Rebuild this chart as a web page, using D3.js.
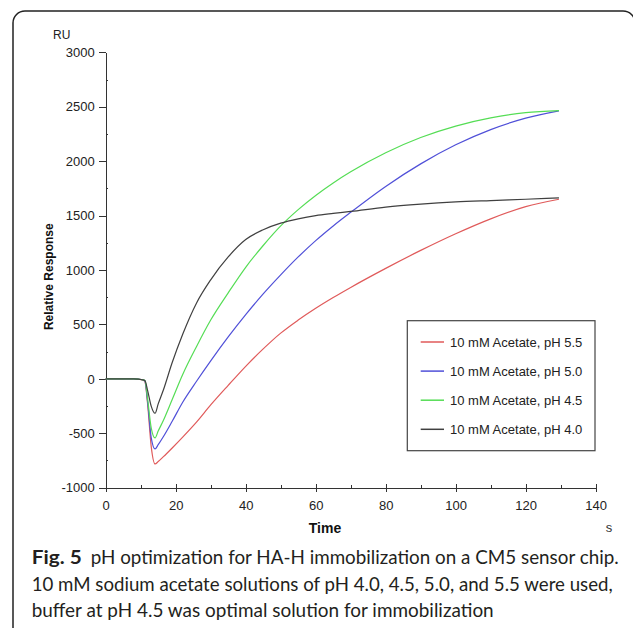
<!DOCTYPE html>
<html>
<head>
<meta charset="utf-8">
<script src="https://cdn.jsdelivr.net/npm/d3@7"></script>
<style>
  body { margin: 0; background: #fff; }
  svg { display: block; }
  .axis text { font-family: "Liberation Sans", Arial, sans-serif; font-size: 13px; fill: #222; }
  .axis path, .axis line { stroke: #333; stroke-width: 1; shape-rendering: crispEdges; }
</style>
</head>
<body>
<div id="chart"></div>
<script>
// sensorgram data (s, RU)
var times = [0, 8, 10.5, 11.2, 12, 13, 14.1, 15, 16.5, 19, 22, 26, 30, 35, 40, 45, 50, 55, 60, 65, 70, 80, 90, 100, 110, 120, 129.5];
var ph55 = [0, 0, -10, -25, -240, -620, -782, -760, -715, -635, -535, -395, -240, -60, 115, 275, 420, 540, 648, 747, 840, 1015, 1180, 1333, 1470, 1582, 1650];
var ph50 = [0, 0, -8, -20, -220, -540, -644, -605, -530, -390, -215, -20, 165, 385, 590, 780, 955, 1120, 1270, 1405, 1530, 1768, 1975, 2150, 2290, 2395, 2462];
var ph45 = [0, 0, -8, -15, -190, -450, -543, -480, -380, -190, 40, 300, 540, 790, 1025, 1225, 1405, 1555, 1685, 1800, 1902, 2077, 2217, 2322, 2397, 2445, 2464];
var ph40 = [0, 0, -8, -15, -110, -250, -316, -230, -100, 150, 410, 700, 910, 1120, 1280, 1370, 1430, 1470, 1500, 1520, 1538, 1578, 1605, 1625, 1638, 1650, 1662];

var seriesNames = ["10 mM Acetate, pH 5.5", "10 mM Acetate, pH 5.0", "10 mM Acetate, pH 4.5", "10 mM Acetate, pH 4.0"];
var seriesColors = ["#e05a5a", "#5050d8", "#55dd55", "#404040"];

var xMajor = [0, 20, 40, 60, 80, 100, 120, 140];
var xMinor = [10, 30, 50, 70, 90, 110, 130];
var yMajor = [-1000, -500, 0, 500, 1000, 1500, 2000, 2500, 3000];
var yMinor = [-750, -250, 250, 750, 1250, 1750, 2250, 2750];

var captionLines = [
  "pH optimization for HA-H immobilization on a CM5 sensor chip.",
  "10 mM sodium acetate solutions of pH 4.0, 4.5, 5.0, and 5.5 were used,",
  "buffer at pH 4.5 was optimal solution for immobilization"
];

var wid = 633, heig = 628;

var svg = d3.select("#chart").append("svg")
    .attr("width", wid)
    .attr("height", heig);

// frame round the figure
svg.append("rect")
    .attr("x", 13).attr("y", 11)
    .attr("width", 622).attr("height", 640)
    .attr("rx", 12).attr("ry", 12)
    .attr("fill", "none")
    .attr("stroke", "#222")
    .attr("stroke-width", 1.5);

var x = d3.scaleLinear().domain([0, 140]).range([105.7, 595.7]);
var y = d3.scaleLinear().domain([-1000, 3000]).range([487.7, 52.3]);

var plainNum = function(d) { return String(d); };

// x axis
var xAxis = svg.append("g")
    .attr("class", "axis")
    .attr("transform", "translate(0," + y(-1000) + ")")
    .call(d3.axisBottom(x).tickValues(xMajor).tickFormat(plainNum).tickSize(4).tickSizeOuter(0).tickPadding(9));
xAxis.selectAll(".tick line").attr("y1", -4);

svg.append("g")
    .attr("class", "axis")
    .attr("transform", "translate(0," + y(-1000) + ")")
    .call(d3.axisTop(x).tickValues(xMinor).tickSize(3).tickFormat("").tickSizeOuter(0))
    .select(".domain").remove();

// y axis
svg.append("g")
    .attr("class", "axis")
    .attr("transform", "translate(" + x(0) + ",0)")
    .call(d3.axisLeft(y).tickValues(yMajor).tickFormat(plainNum).tickSize(7).tickSizeOuter(0).tickPadding(4));

var yMin = svg.append("g")
    .attr("class", "axis")
    .attr("transform", "translate(" + x(0) + ",0)")
    .call(d3.axisLeft(y).tickValues(yMinor).tickSize(2.5).tickFormat("").tickSizeOuter(0));
yMin.select(".domain").remove();
yMin.selectAll(".tick line").attr("x2", 2.5);

// axis titles
svg.append("text")
    .attr("x", 53).attr("y", 39)
    .style("font-family", "'Liberation Sans', Arial, sans-serif")
    .style("font-size", "12px")
    .style("fill", "#222")
    .text("RU");

svg.append("text")
    .attr("transform", "translate(53,276.7) rotate(-90)")
    .attr("text-anchor", "middle")
    .style("font-family", "'Liberation Sans', Arial, sans-serif")
    .style("font-size", "12px")
    .style("font-weight", "bold")
    .style("fill", "#111")
    .text("Relative Response");

svg.append("text")
    .attr("x", 325).attr("y", 533)
    .attr("text-anchor", "middle")
    .style("font-family", "'Liberation Sans', Arial, sans-serif")
    .style("font-size", "14px")
    .style("font-weight", "bold")
    .style("fill", "#111")
    .text("Time");

svg.append("text")
    .attr("x", 609).attr("y", 532)
    .attr("text-anchor", "middle")
    .style("font-family", "'Liberation Sans', Arial, sans-serif")
    .style("font-size", "13px")
    .style("fill", "#333")
    .text("s");

// the curves
var allSeries = [ph55, ph50, ph45, ph40];
var line = d3.line()
    .x(function(d) { return x(d[0]); })
    .y(function(d) { return y(d[1]); })
    .curve(d3.curveMonotoneX);

svg.selectAll("path.curve")
    .data(allSeries)
    .enter().append("path")
    .attr("class", "curve")
    .attr("fill", "none")
    .attr("stroke", function(d, i) { return seriesColors[i]; })
    .attr("stroke-width", 1.2)
    .attr("d", function(vals) {
        return line(times.map(function(t, k) { return [t, vals[k]]; }));
    });

// legend
var legend = svg.append("g").attr("class", "legend");
legend.append("rect")
    .attr("x", 407.3).attr("y", 320.7)
    .attr("width", 187.7).attr("height", 130)
    .attr("fill", "#fff")
    .attr("stroke", "#444")
    .attr("stroke-width", 1.2);

var legendRows = legend.selectAll("g.row")
    .data(seriesNames)
    .enter().append("g")
    .attr("class", "row")
    .attr("transform", function(d, i) { return "translate(0," + (342 + i * 29.1) + ")"; });

legendRows.append("line")
    .attr("x1", 420.7).attr("x2", 444)
    .attr("y1", 0).attr("y2", 0)
    .attr("stroke", function(d, i) { return seriesColors[i]; })
    .attr("stroke-width", 1.5);

legendRows.append("text")
    .attr("x", 450).attr("y", 0)
    .attr("dy", "0.35em")
    .style("font-family", "'Liberation Sans', Arial, sans-serif")
    .style("font-size", "13px")
    .style("fill", "#222")
    .text(function(d) { return d; });

// caption
var cap = svg.append("g")
    .style("font-family", "Lato, 'Open Sans', sans-serif")
    .style("font-size", "19px")
    .style("fill", "#231f20");

cap.append("text")
    .attr("x", 31.7).attr("y", 564)
    .attr("textLength", 50).attr("lengthAdjust", "spacingAndGlyphs")
    .style("font-weight", "bold")
    .text("Fig. 5");

cap.append("text")
    .attr("x", 90.7).attr("y", 564)
    .attr("textLength", 528).attr("lengthAdjust", "spacingAndGlyphs")
    .text(captionLines[0]);

cap.append("text")
    .attr("x", 31.7).attr("y", 590.7)
    .attr("textLength", 581).attr("lengthAdjust", "spacingAndGlyphs")
    .text(captionLines[1]);

cap.append("text")
    .attr("x", 31.7).attr("y", 617.3)
    .attr("textLength", 462).attr("lengthAdjust", "spacingAndGlyphs")
    .text(captionLines[2]);
</script>
</body>
</html>
